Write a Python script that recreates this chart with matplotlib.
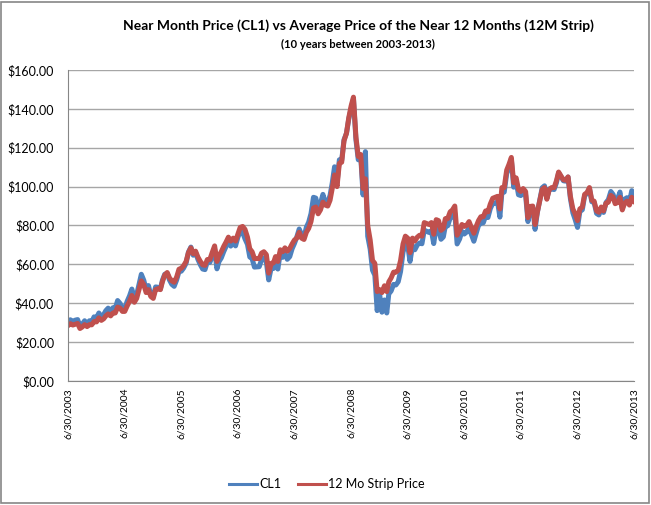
import pandas as pd
import matplotlib.pyplot as plt
from matplotlib.patches import Rectangle

plt.rcParams["font.family"] = ["Lato", "DejaVu Sans"]

# prices, two points per month (15th and month end),
# first point is 6/30/2003
cl1 = [
    30.2, 31.5, 30.5, 31.3, 31.6, 28.3, 29.2, 31.0, 29.1, 31.0, 30.4, 33.0, 32.5,  # 2003
    35.0, 33.0, 34.2, 36.2, 37.5, 35.8, 37.7, 37.4, 41.4, 39.9, 37.3, 37.1,
    40.9, 43.8, 47.3, 42.1, 44.4, 49.6, 54.9, 51.8, 46.9, 49.1, 44.2, 43.4,  # 2004
    48.4, 48.2, 47.3, 51.8, 54.9, 55.4, 51.9, 49.7, 48.7, 52.0, 56.3, 56.5,
    58.1, 60.6, 66.3, 68.9, 64.7, 66.2, 62.6, 59.8, 57.6, 57.3, 61.4, 61.0,  # 2005
    63.9, 67.9, 57.7, 61.4, 63.3, 66.6, 69.3, 71.9, 69.4, 71.3, 69.5, 73.9,
    77.0, 76.5, 73.1, 70.3, 63.8, 62.9, 58.6, 58.7, 58.8, 62.5, 63.4, 61.1,  # 2006
    52.0, 58.1, 57.9, 61.8, 57.6, 65.9, 63.6, 65.7, 62.6, 64.0, 68.0, 70.7,
    74.0, 78.2, 75.4, 74.0, 79.1, 81.7, 86.1, 94.5, 94.1, 88.7, 91.3, 96.0,  # 2007
    91.9, 91.8, 95.5, 101.8, 110.2, 101.6, 113.8, 113.5, 124.1, 127.4, 134.9, 140.0,
    145.2, 124.1, 113.8, 115.5, 95.7, 118.0, 74.5, 67.8, 57.0, 54.4, 36.2, 44.6,  # 2008
    35.4, 41.7, 35.0, 44.8, 46.3, 49.7, 49.4, 51.1, 56.3, 66.3, 70.5, 69.9,
    61.5, 69.5, 67.5, 70.0, 71.0, 70.6, 77.6, 77.0, 76.4, 77.3, 70.7, 79.4,  # 2009
    78.0, 72.9, 74.1, 79.7, 79.8, 83.8, 84.5, 86.2, 70.5, 73.0, 77.0, 75.6,
    76.6, 78.9, 75.4, 71.9, 76.0, 80.0, 81.2, 81.4, 84.9, 84.1, 88.6, 91.4,  # 2010
    91.5, 92.2, 84.3, 97.0, 97.2, 106.7, 109.7, 113.9, 99.7, 102.7, 95.8, 95.4,
    97.2, 95.7, 82.0, 88.8, 89.4, 78.0, 86.8, 93.2, 99.4, 100.4, 93.9, 98.8,  # 2011
    98.7, 98.5, 102.0, 107.1, 105.1, 103.0, 102.8, 104.9, 93.9, 86.5, 83.0, 79.0,
    87.1, 88.1, 95.3, 96.5, 99.0, 92.2, 91.9, 86.2, 85.4, 88.9, 86.7, 91.8,  # 2012
    93.3, 97.5, 95.9, 92.1, 93.5, 97.2, 88.7, 93.5, 94.3, 92.0, 97.9, 96.6,  # 2013
]

strip_12m = [
    28.5, 29.5, 28.8, 29.2, 29.6, 27.0, 27.8, 29.0, 28.0, 29.0, 28.9, 30.6, 30.4,  # 2003
    32.5, 31.2, 32.0, 33.5, 34.5, 33.5, 35.0, 35.0, 38.0, 37.5, 35.8, 35.8,
    38.5, 41.0, 44.0, 40.5, 42.5, 47.0, 51.5, 49.5, 45.5, 47.0, 43.5, 42.5,  # 2004
    47.0, 47.5, 47.0, 51.0, 54.5, 55.8, 53.0, 51.5, 50.8, 53.5, 57.5, 58.0,
    59.3, 61.5, 66.0, 68.5, 65.5, 66.8, 63.8, 61.5, 59.8, 59.5, 62.5, 62.5,  # 2005
    66.0, 69.5, 61.5, 64.5, 66.5, 69.3, 71.5, 74.0, 72.0, 73.5, 72.0, 75.5,
    79.0, 79.5, 78.0, 74.0, 68.0, 66.5, 63.0, 63.0, 63.0, 65.8, 66.5, 65.0,  # 2006
    55.5, 60.5, 60.8, 64.0, 61.5, 67.5, 66.5, 68.5, 66.8, 68.2, 70.5, 72.5,
    73.5, 76.5, 73.5, 72.8, 76.5, 78.5, 82.0, 89.0, 89.5, 86.0, 88.0, 92.0,  # 2007
    90.5, 90.0, 93.0, 99.0, 106.0, 100.0, 112.0, 112.5, 123.5, 127.5, 135.5, 141.5,
    146.0, 125.5, 115.5, 116.5, 99.0, 104.0, 80.0, 72.5, 62.0, 60.5, 46.0, 47.0,  # 2008
    45.5, 49.0, 46.0, 51.0, 53.0, 56.0, 56.0, 57.0, 62.0, 70.5, 74.5, 73.5,
    66.0, 73.5, 72.0, 74.0, 75.0, 74.5, 81.5, 81.0, 80.5, 81.5, 75.5, 83.0,  # 2009
    82.5, 77.5, 78.5, 83.5, 83.5, 87.0, 88.0, 90.0, 75.0, 77.5, 80.5, 79.5,
    80.0, 82.0, 79.0, 76.0, 79.5, 82.5, 84.5, 84.5, 87.5, 87.0, 91.0, 94.0,  # 2010
    94.5, 95.0, 88.5, 99.5, 99.5, 108.5, 111.5, 115.0, 102.0, 104.5, 98.5, 97.5,
    99.0, 97.5, 84.0, 89.8, 90.0, 80.5, 87.0, 93.0, 98.5, 99.5, 93.5, 98.5,  # 2011
    99.5, 99.5, 103.0, 107.5, 105.5, 103.5, 103.3, 105.0, 95.0, 88.5, 86.0, 82.5,
    88.5, 89.5, 96.0, 97.0, 99.5, 93.0, 92.5, 87.5, 86.8, 89.5, 87.5, 91.5,  # 2012
    92.0, 95.5, 94.5, 91.2, 91.8, 94.5, 88.0, 91.5, 92.5, 90.5, 94.5, 92.5,  # 2013
]

y_ticks = [0, 20, 40, 60, 80, 100, 120, 140, 160]
x_tick_dates = ["6/30/%d" % y for y in range(2003, 2014)]

title = "Near Month Price (CL1) vs Average Price of the Near 12 Months (12M Strip)"
subtitle = "(10 years between 2003-2013)"


def semi_monthly_dates():
    dates = [pd.Timestamp("2003-06-30")]
    for m in pd.period_range("2003-07", "2013-06", freq="M"):
        dates.append(m.start_time + pd.Timedelta(days=14))
        dates.append(m.end_time.normalize())
    return dates


dates = semi_monthly_dates()
ticks = pd.to_datetime(x_tick_dates, format="%m/%d/%Y")

fig = plt.figure(figsize=(6.51, 5.05), dpi=100)
ax = fig.add_axes([0.1045, 0.2455, 0.8695, 0.616])

ax.plot(dates, cl1, color="#4F81BD", lw=3.6, label="CL1")
ax.plot(dates, strip_12m, color="#C0504D", lw=3.6, label="12 Mo Strip Price")

ax.set_ylim(0, 160)
ax.set_yticks(y_ticks)
ax.set_yticklabels(["$%.2f" % v for v in y_ticks])
ax.set_xlim(ticks[0], ticks[-1])
ax.set_xticks(ticks)
ax.set_xticklabels(x_tick_dates, rotation=90)

ax.grid(axis="y", color="#A6A6A6", lw=1)
ax.set_axisbelow(True)
for side in ["top", "right"]:
    ax.spines[side].set_visible(False)
for side in ["left", "bottom"]:
    ax.spines[side].set_color("#868686")
ax.tick_params(axis="y", labelsize=9, length=0, pad=10)
ax.tick_params(axis="x", labelsize=7.4, length=0, pad=5)

fig.text(0.55, 0.95, title, ha="center", va="center", fontsize=10, fontweight="bold")
fig.text(0.55, 0.911, subtitle, ha="center", va="center", fontsize=8, fontweight="bold")

leg = fig.legend(loc="center", bbox_to_anchor=(0.502, 1 - 484 / 505), ncol=2, frameon=False,
                 fontsize=9, handlelength=2.25, handletextpad=0.2, columnspacing=1.3)
for line in leg.get_lines():
    line.set_linewidth(2.2)

fig.patches.append(Rectangle((0.002, 0.003), 0.995, 0.993, transform=fig.transFigure,
                             fill=False, edgecolor="#868686", lw=1.2))

fig.savefig("out.png", dpi=100)
